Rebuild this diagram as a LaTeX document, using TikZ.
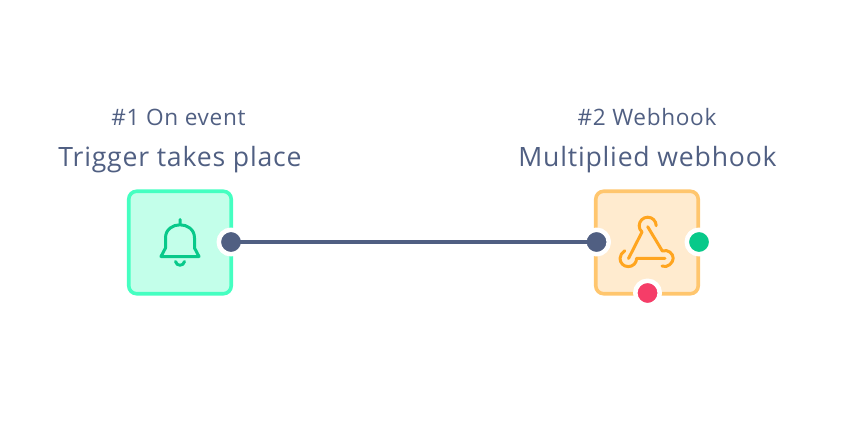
\documentclass[tikz,border=0pt]{standalone}
\usepackage{fontspec}
\setmainfont{Open Sans}[LetterSpace=3]
\usepackage{xcolor}
\usetikzlibrary{positioning}

\definecolor{slate}{HTML}{505F82}
\definecolor{mint}{HTML}{45FFC1}
\definecolor{mintfill}{HTML}{C3FFEA}
\definecolor{sand}{HTML}{FFC66E}
\definecolor{sandfill}{HTML}{FFEBCF}
\definecolor{amber}{HTML}{FFA51F}
\definecolor{emerald}{HTML}{08C98A}
\definecolor{rose}{HTML}{F53D68}

\begin{document}
\begin{tikzpicture}[x=1pt,y=-1pt,line cap=round,line join=round]
  \tikzstyle{card}=[rectangle,rounded corners=8pt,line width=3.6pt,minimum size=102.5pt,inner sep=0pt]
  \tikzstyle{port}=[circle,draw=white,line width=4.5pt,minimum size=24.5pt,inner sep=0pt]
  \tikzstyle{wire}=[draw=slate,line width=4pt,line cap=butt]
  \tikzstyle{small}=[text=slate,inner sep=0pt,font=\fontsize{22.6}{26}\selectfont]
  \tikzstyle{large}=[text=slate,inner sep=0pt,font=\fontsize{26.6}{31}\selectfont]
  \tikzstyle{glyph}=[line width=3pt,fill=none]

  \useasboundingbox (0,0) rectangle (850,430);

  \node[card,draw=mint,fill=mintfill]  (A) at (180,242.5) {};
  \node[card,draw=sand,fill=sandfill]  (B) at (647,242.5) {};

  \node[large] (Atitle) at (180,159.5) {Trigger takes place};
  \node[small] (Atag)   at (178.5,117.5) {\#1 On event};
  \node[large] (Btitle) at (647.5,159.5) {Multiplied webhook};
  \node[small] (Btag)   at (647,117.5) {\#2 Webhook};

  \node[port,fill=slate]   (Aout)  at (231,242) {};
  \node[port,fill=slate]   (Bin)   at (596.5,242) {};
  \node[port,fill=emerald] (Bok)   at (699,242) {};
  \node[port,fill=rose]    (Bfail) at (647.5,293) {};

  \path[wire] (Aout.center) -- (Bin.center);

  % bell
  \draw[glyph,draw=emerald] (180,219.5) -- (180,224)
     (165.5,238) .. controls (165.5,220.4) and (194.5,220.4) .. (194.5,238)
     (165.5,238) -- (165.5,248) -- (161,256.5) -- (199,256.5) -- (194.5,248) -- (194.5,238)
     (175.5,261.5) .. controls (176.5,266.5) and (183.5,266.5) .. (184.5,261.5);

  % webhook
  \draw[glyph,draw=amber]
     (628.5,258.5) -- (642,232) .. controls (640,230.5) and (639.2,228) .. (639.2,225.7)
     .. controls (639.2,221) and (643,217.2) .. (647.7,217.2)
     .. controls (652.4,217.2) and (656.2,221) .. (656.2,225.7)
     (647.7,226.7) -- (662.3,251) .. controls (668,249) and (673.2,253.5) .. (673.2,258.3)
     .. controls (673.2,263) and (667,268.5) .. (662,266)
     (665,258.3) -- (636.6,258.3) .. controls (636.6,263) and (633,266.6) .. (628.3,266.6)
     .. controls (623.5,266.6) and (620,263) .. (620,258.3)
     .. controls (620,255.5) and (622,252.5) .. (624.8,250.8);
\end{tikzpicture}
\end{document}
